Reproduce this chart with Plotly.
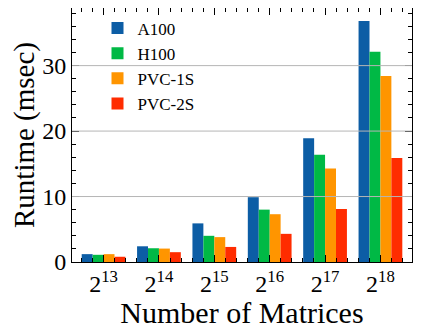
import plotly.graph_objects as go

# data
sizes = ["2<sup>13</sup>", "2<sup>14</sup>", "2<sup>15</sup>", "2<sup>16</sup>", "2<sup>17</sup>", "2<sup>18</sup>"]
a100 = [1.2, 2.4, 5.9, 9.9, 18.9, 36.8]
h100 = [1.1, 2.1, 4.0, 8.0, 16.4, 32.1]
pvc_1s = [1.2, 2.05, 3.8, 7.3, 14.3, 28.4]
pvc_2s = [0.8, 1.5, 2.3, 4.3, 8.1, 15.9]
y_ticks = [0, 10, 20, 30]

series = [
    ("A100", a100, "#0C5DA5"),
    ("H100", h100, "#00B945"),
    ("PVC-1S", pvc_1s, "#FF9500"),
    ("PVC-2S", pvc_2s, "#FF2C00"),
]

font = "Liberation Serif"
x_pos = list(range(len(sizes)))

fig = go.Figure()
for name, vals, color in series:
    fig.add_trace(go.Bar(
        x=x_pos, y=vals, name=name,
        marker=dict(color=color, line=dict(width=0)),
    ))

# grid lines sit on top of the bars in the original
for t in y_ticks[1:]:
    fig.add_shape(type="line", xref="paper", x0=0, x1=1, yref="y", y0=t, y1=t,
                  line=dict(color="#b5b5b5", width=1), layer="above")

axis_common = dict(
    showline=True, linecolor="black", linewidth=1, mirror="allticks",
    ticks="inside", ticklen=7, tickwidth=1, tickcolor="black",
    showgrid=False, zeroline=False, automargin=False,
    tickfont=dict(family=font, size=24, color="black"),
)

# page body keeps its default 8px margin, so the figure is sized to fit inside
fig.update_layout(
    width=415, height=321,
    margin=dict(l=64, r=11, t=0, b=67),
    plot_bgcolor="white", paper_bgcolor="white",
    barmode="group", bargap=0.21, bargroupgap=0,
    font=dict(family=font, color="black"),
    legend=dict(x=0.075, y=0.99, xanchor="left", yanchor="top",
                font=dict(family=font, size=17), bgcolor="rgba(0,0,0,0)",
                tracegroupgap=0),
    xaxis=dict(
        axis_common,
        range=[-0.57, 5.57], tickvals=x_pos, ticktext=sizes,
        minor=dict(ticks="inside", ticklen=4, tickcolor="black", dtick=0.2, tick0=0),
        title=dict(text="Number of Matrices", font=dict(family=font, size=30), standoff=0),
    ),
    yaxis=dict(
        axis_common,
        range=[0, 38.8], tickvals=y_ticks,
        minor=dict(ticks="inside", ticklen=4, tickcolor="black", dtick=2, tick0=0),
        title=dict(text="Runtime (msec)", font=dict(family=font, size=29), standoff=6),
    ),
)

fig.write_html("out.html")
